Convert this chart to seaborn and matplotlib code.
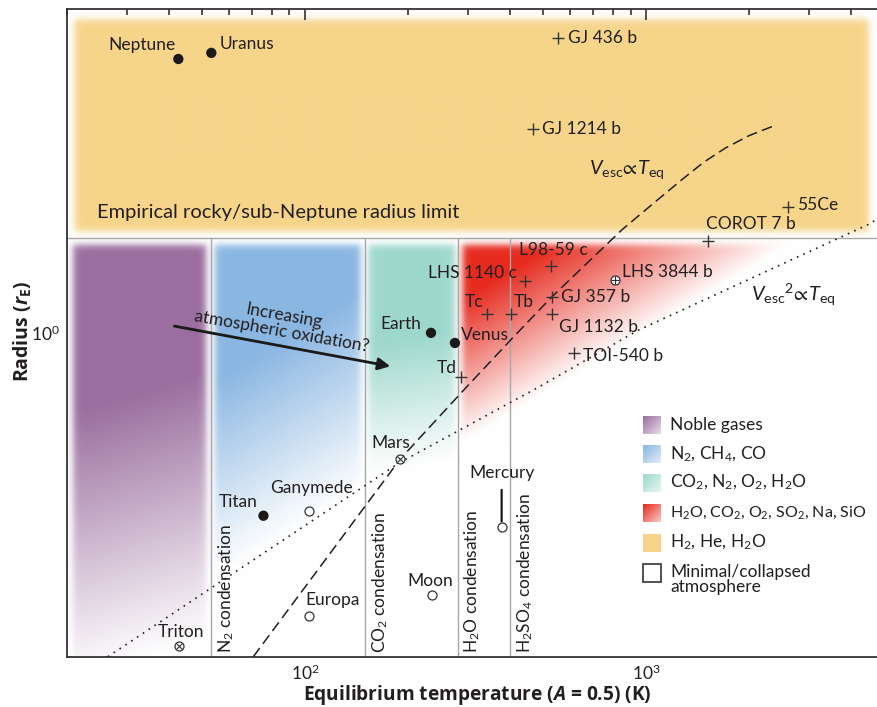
import numpy as np
import matplotlib
matplotlib.use("Agg")
import matplotlib.pyplot as plt
import seaborn as sns
from matplotlib.patches import Rectangle

# ---------------- data ----------------
T_LIM = (20, 5000)
R_LIM = (0.2, 5)

filled_names = ["Neptune", "Uranus", "Earth", "Venus", "Titan"]
filled_T = [42.5, 53.1, 234, 275, 75.5]
filled_R = [3.90, 4.02, 1.00, 0.951, 0.403]

open_names = ["Ganymede", "Europa", "Moon", "Mercury"]
open_T = [102.5, 102.5, 235, 377]
open_R = [0.413, 0.245, 0.272, 0.381]

otimes_names = ["Triton", "Mars"]
otimes_T = [42.7, 190]
otimes_R = [0.211, 0.533]

oplus_names = ["LHS 3844 b"]
oplus_T = [811]
oplus_R = [1.30]

plus_names = ["GJ 436 b", "GJ 1214 b", "55Ce", "COROT 7 b", "L98-59 c", "LHS 1140 c",
              "GJ 357 b", "Tc", "Tb", "GJ 1132 b", "TOI-540 b", "Td"]
plus_T = [553, 467, 2600, 1516, 525, 440, 529, 341, 401, 529, 615, 287]
plus_R = [4.32, 2.75, 1.87, 1.578, 1.393, 1.293, 1.196, 1.096, 1.096, 1.096, 0.903, 0.801]

# V_esc ∝ T_eq curve (dashed)
vesc_T = [70.5, 190, 297, 408, 528, 847, 1036, 1269, 1472, 1708, 2009, 2362]
vesc_R = [0.200, 0.534, 0.763, 0.979, 1.194, 1.666, 1.887, 2.137, 2.332, 2.506, 2.667, 2.795]
# V_esc^2 ∝ T_eq curve (dotted)
vesc2_T = [26.4, 52.9, 188, 483, 948, 4580, 4730]
vesc2_R = [0.200, 0.281, 0.523, 0.763, 1.013, 1.726, 1.760]

radius_limit = 1.6
cond_T = [53, 150, 280, 400]
cond_labels = ["N$_2$ condensation", "CO$_2$ condensation",
               "H$_2$O condensation", "H$_2$SO$_4$ condensation"]

legend_labels = ["Noble gases", "N$_2$, CH$_4$, CO", "CO$_2$, N$_2$, O$_2$, H$_2$O",
                 "H$_2$O, CO$_2$, O$_2$, SO$_2$, Na, SiO", "H$_2$, He, H$_2$O",
                 "Minimal/collapsed\natmosphere"]
col_purple = "#9a6e9e"
col_blue = "#8ab6e2"
col_teal = "#9ed8cc"
col_red = "#e62a1e"
col_yellow = "#f6d48a"
legend_colors = [col_purple, col_blue, col_teal, col_red, col_yellow, None]

# label offsets (pixels) and alignment
label_pos = {
    "Neptune": (-3, 14, "right"), "Uranus": (8, 9, "left"), "Earth": (-10, 9, "right"),
    "Venus": (6, 8, "left"), "Titan": (-6, 14, "right"), "Ganymede": (3, 23, "center"),
    "Europa": (-3, 16, "left"), "Moon": (-1, 14, "center"), "Mercury": (0, 54, "center"),
    "Triton": (2, 14, "center"), "Mars": (-9, 16, "center"), "LHS 3844 b": (7, 8, "left"),
    "GJ 436 b": (10, 0, "left"), "GJ 1214 b": (9, 0, "left"), "55Ce": (9, 2, "left"),
    "COROT 7 b": (-2, 17, "left"), "L98-59 c": (3, 16, "center"), "LHS 1140 c": (-8, 8, "right"),
    "GJ 357 b": (9, 0, "left"), "Tc": (-3, 12, "right"), "Tb": (3, 12, "left"),
    "GJ 1132 b": (7, -13, "left"), "TOI-540 b": (9, -3, "left"), "Td": (-4, 9, "right"),
}

# ---------------- style ----------------
sns.set_theme(style="white")
plt.rcParams["font.family"] = ["Lato", "DejaVu Sans"]
plt.rcParams["mathtext.fontset"] = "custom"
plt.rcParams["mathtext.rm"] = "Lato"
plt.rcParams["mathtext.it"] = "Lato:italic"
plt.rcParams["mathtext.bf"] = "Open Sans:bold"
plt.rcParams["mathtext.bfit"] = "Open Sans:italic:bold"
plt.rcParams["mathtext.fallback"] = "stixsans"
TXT = "#231f20"
FS = 12.5

W, H = 878, 707
fig = plt.figure(figsize=(W / 100, H / 100), dpi=100)
ax_l, ax_r, ax_t, ax_b = 66.7, 884.5, 9.0, 656.7
pos = [ax_l / W, (H - ax_b) / H, (ax_r - ax_l) / W, (ax_b - ax_t) / H]
bg = fig.add_axes(pos, zorder=0)
ax = fig.add_axes(pos, zorder=1)
ax.patch.set_alpha(0)

# ---------------- background colour regions ----------------
lx0, lx1 = np.log10(T_LIM)
ly0, ly1 = np.log10(R_LIM)
nx, ny = 900, 720
LX, LY = np.meshgrid(np.linspace(lx0, lx1, nx), np.linspace(ly0, ly1, ny))


def sig(z):
    return 0.5 * (1 + np.tanh(z))


def box(t1, t2, r1, r2, ex=0.012, ey=0.009):
    a = sig((LX - np.log10(t1)) / ex) * sig((np.log10(t2) - LX) / ex)
    a = a * sig((LY - np.log10(r1)) / ey) * sig((np.log10(r2) - LY) / ey)
    return a


def fade(ta, ra, tb, rb, width):
    xa, ya, xb, yb = np.log10([ta, ra, tb, rb])
    yl = ya + (yb - ya) * (LX - xa) / (xb - xa)
    return np.clip((LY - yl) / width, 0, 1)


def rgb(h):
    return np.array(matplotlib.colors.to_rgb(h))


img = np.ones((ny, nx, 3))


def paint(alpha, color):
    global img
    img = img * (1 - alpha[..., None]) + rgb(color) * alpha[..., None]


paint(box(21.0, 4490, 1.66, 4.76), col_yellow)
paint(box(20.8, 51.0, 0.1, 1.55) * fade(20.8, 0.178, 50.7, 0.217, 0.58), col_purple)
paint(box(54.2, 145, 0.1, 1.55) * fade(53.9, 0.292, 145, 0.457, 0.43), col_blue)
paint(box(153, 274, 0.1, 1.55) * fade(153, 0.493, 272, 0.531, 0.28), col_teal)
red_s = (LX - np.log10(287)) / 0.968 + (np.log10(1.56) - LY) / 0.432
red_a = np.clip((1 - red_s) / 0.72, 0, 1)
paint(box(289, 1e5, 0.1, 1.55) * red_a, col_red)

bg.imshow(img, extent=[lx0, lx1, ly0, ly1], origin="lower", aspect="auto",
          interpolation="bilinear")


def fx(x):
    return (x - ax_l) / (ax_r - ax_l)


def fy(y):
    return (ax_b - y) / (ax_b - ax_t)


# legend swatches (gradient squares) and texts
leg_rows = [425, 454, 482.7, 512.7, 542.7, 573.3]
u, v = np.meshgrid(np.linspace(0, 1, 24), np.linspace(0, 1, 24))
for lab, col, yc in zip(legend_labels, legend_colors, leg_rows):
    x0, x1 = fx(643), fx(661)
    y0, y1 = fy(yc + 9), fy(yc - 9)
    if col is None:
        ax.add_patch(Rectangle((x0, y0), x1 - x0, y1 - y0, transform=ax.transAxes,
                               facecolor="white", edgecolor="#333333", lw=1.2, zorder=6))
        ax.text(fx(670), fy(yc - 9.5), lab, transform=ax.transAxes, ha="left", va="top",
                fontsize=FS, color=TXT, linespacing=0.95)
    else:
        if col == col_yellow:
            a = np.ones_like(u)
        else:
            a = np.clip(1 - 0.75 * (u + (1 - v)) / 2, 0, 1)
        sw = np.ones((24, 24, 3)) * (1 - a[..., None]) + rgb(col) * a[..., None]
        bg.imshow(sw, extent=[x0, x1, y0, y1], origin="lower", transform=bg.transAxes,
                  aspect="auto", interpolation="bilinear")
        fs = FS - 1.0 if "SiO" in lab else FS
        ax.text(fx(670), fy(yc), lab, transform=ax.transAxes, ha="left", va="center",
                fontsize=fs, color=TXT)

bg.set_xlim(lx0, lx1)
bg.set_ylim(ly0, ly1)
bg.axis("off")

# ---------------- main axes ----------------
ax.set_xscale("log")
ax.set_yscale("log")

ax.axhline(radius_limit, color="#a8a8a8", lw=1.0, zorder=2)
ax.vlines(cond_T, R_LIM[0], radius_limit, color="#a8a8a8", lw=1.0, zorder=2)
for t, lab in zip(cond_T, cond_labels):
    ax.annotate(lab, xy=(t, R_LIM[0]), xytext=(5, 4), textcoords="offset pixels",
                rotation=90, ha="left", va="bottom", fontsize=FS, color=TXT)

sns.lineplot(x=vesc_T, y=vesc_R, ax=ax, color="#231f20", lw=1.1, sort=False,
             estimator=None, linestyle=(0, (7, 3.5)), zorder=3)
sns.lineplot(x=vesc2_T, y=vesc2_R, ax=ax, color="#231f20", lw=1.2, sort=False,
             estimator=None, linestyle=(0, (1, 3.2)), zorder=3)

sns.scatterplot(x=filled_T, y=filled_R, ax=ax, color="#1a1a1a", s=55, edgecolor="none", zorder=5)
sns.scatterplot(x=open_T + otimes_T + oplus_T, y=open_R + otimes_R + oplus_R, ax=ax,
                color="white", edgecolor="#333333", s=42, linewidth=0.9, zorder=5)
sns.scatterplot(x=otimes_T, y=otimes_R, ax=ax, marker="x", color="#333333", s=16,
                linewidth=0.8, zorder=6)
sns.scatterplot(x=oplus_T, y=oplus_R, ax=ax, marker="+", color="#333333", s=30,
                linewidth=0.8, zorder=6)
sns.scatterplot(x=plus_T, y=plus_R, ax=ax, marker="+", color="#333333", s=70,
                linewidth=1.0, zorder=5)

all_names = filled_names + open_names + otimes_names + oplus_names + plus_names
all_T = filled_T + open_T + otimes_T + oplus_T + plus_T
all_R = filled_R + open_R + otimes_R + oplus_R + plus_R
for n, t, r in zip(all_names, all_T, all_R):
    dx, dy, ha = label_pos[n]
    if n == "Mercury":
        ax.annotate(n, xy=(t, r), xytext=(dx, dy), textcoords="offset pixels", ha=ha,
                    va="center", fontsize=FS, color=TXT,
                    arrowprops=dict(arrowstyle="-", color="#1a1a1a", lw=1.6,
                                    shrinkA=4, shrinkB=4))
    else:
        ax.annotate(n, xy=(t, r), xytext=(dx, dy), textcoords="offset pixels", ha=ha,
                    va="center", fontsize=FS, color=TXT)

# annotations
ax.text(24.6, 1.823, "Empirical rocky/sub-Neptune radius limit", ha="left", va="center",
        fontsize=14.5, color=TXT)
ax.text(678, 2.246, r"$V_{\mathrm{esc}}\!\propto\! T_{\mathrm{eq}}$", ha="left", va="center",
        fontsize=14.5, color=TXT)
ax.text(2033, 1.206, r"$V_{\mathrm{esc}}{}^{2}\!\propto\! T_{\mathrm{eq}}$", ha="left",
        va="center", fontsize=14.5, color=TXT)
ax.annotate("", xy=(177.8, 0.847), xytext=(41.4, 1.034),
            arrowprops=dict(arrowstyle="-|>", color="#1a1a1a", lw=2.0, mutation_scale=18,
                            shrinkA=0, shrinkB=0), zorder=6)
ax.text(86, 1.046, "Increasing\natmospheric oxidation?", ha="center", va="center",
        rotation=-10, rotation_mode="anchor", fontsize=FS, color=TXT, linespacing=1.0,
        multialignment="center")

# axes styling
ax.set_xlim(*T_LIM)
ax.set_ylim(*R_LIM)
ax.yaxis.set_minor_formatter(matplotlib.ticker.NullFormatter())
ax.xaxis.set_minor_formatter(matplotlib.ticker.NullFormatter())
ax.tick_params(which="both", direction="in", top=True, right=False, color="#231f20",
               labelcolor=TXT, labelsize=12.5)
ax.tick_params(which="major", length=8, width=1.1, pad=5)
ax.tick_params(which="minor", length=4.5, width=1.1)
for side in ["left", "bottom", "top"]:
    ax.spines[side].set_color("#333333")
    ax.spines[side].set_linewidth(1.3)
ax.spines["right"].set_visible(False)
ax.grid(False)

ax.set_xlabel(r"Equilibrium temperature ($\mathbfit{A}$ = 0.5) (K)", fontsize=13.8,
              fontweight="bold", fontfamily=["Open Sans", "DejaVu Sans"], color=TXT)
ax.set_ylabel(r"Radius ($\mathbfit{r}_{\mathbf{E}}$)", fontsize=14, fontweight="bold",
              fontfamily=["Open Sans", "DejaVu Sans"], color=TXT)
ax.xaxis.set_label_coords(fx(477), fy(683))
ax.yaxis.set_label_coords(fx(33), fy(331))

fig.savefig("out.png", dpi=100)
